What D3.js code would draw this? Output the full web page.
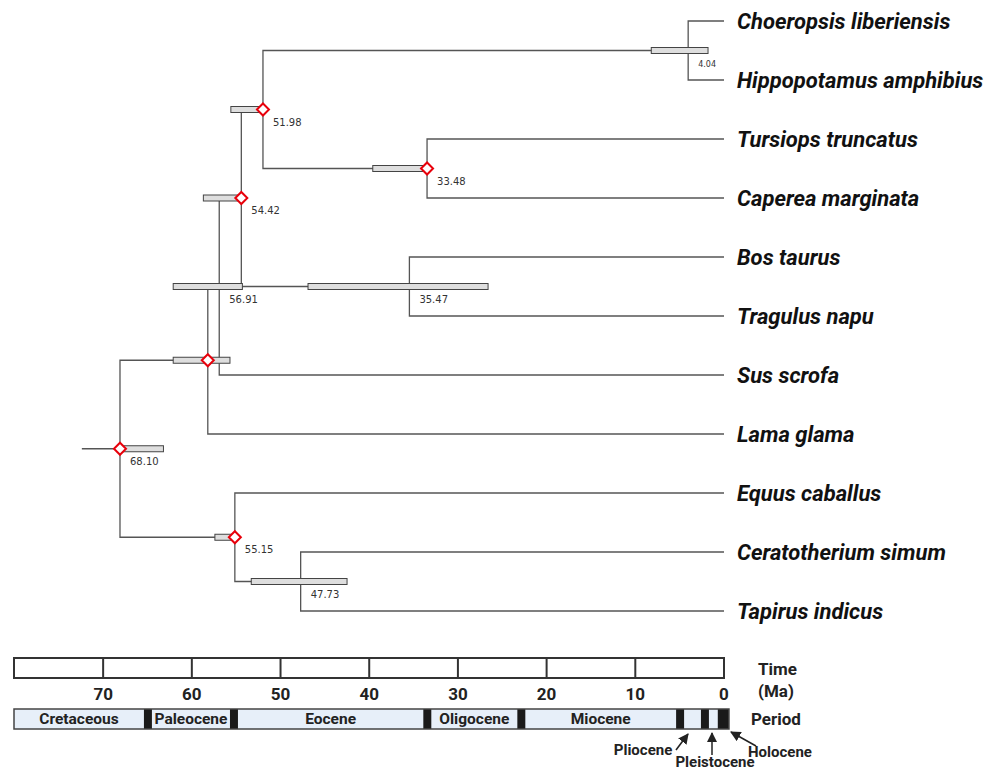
<!DOCTYPE html>
<html>
<head>
<meta charset="utf-8">
<script src="https://cdn.jsdelivr.net/npm/d3@7"></script>
<style>
  body { margin: 0; background: #fff; }
  svg { display: block; }
</style>
</head>
<body>
<div id="chart"></div>
<script>
// leaves top to bottom
const species = [
  "Choeropsis liberiensis", "Hippopotamus amphibius", "Tursiops truncatus",
  "Caperea marginata", "Bos taurus", "Tragulus napu", "Sus scrofa",
  "Lama glama", "Equus caballus", "Ceratotherium simum", "Tapirus indicus"
];

// internal nodes: id, parent, age (Ma), 95% HPD range, printed label, diamond marker
const nodeIds     = ["root", "n58", "n5691", "n5442", "n5198", "n404", "n3348", "n3547", "n5515", "n4773"];
const nodeParents = [null, "root", "n58", "n5691", "n5442", "n5198", "n5198", "n5442", "root", "n5515"];
const nodeAges    = [68.10, 58.2, 56.91, 54.42, 51.98, 4.04, 33.48, 35.47, 55.15, 47.73];
const nodeHpd     = [[63.2, 68.4], [55.7, 62.1], [54.3, 62.1], [54.5, 58.7], [52.0, 55.6],
                     [1.8, 8.2], [33.4, 39.6], [26.6, 46.9], [55.0, 57.4], [42.5, 53.3]];
const nodeLabels  = ["68.10", "", "56.91", "54.42", "51.98", "4.04", "33.48", "35.47", "55.15", "47.73"];
const nodeDiamond = [true, true, false, true, true, false, true, false, true, false];
const leafParents = ["n404", "n404", "n3348", "n3348", "n3547", "n3547", "n5691", "n58", "n5515", "n4773", "n4773"];
const rootStemAge = 72.4;

// time scale
const tickValues = [70, 60, 50, 40, 30, 20, 10];
const tickLabels = [70, 60, 50, 40, 30, 20, 10, 0];
const scaleStart = 80.05;

// geological periods (light segments) and black boundary bands
const periodNames = ["Cretaceous", "Paleocene", "Eocene", "Oligocene", "Miocene"];
const periodFrom  = [80.05, 64.5, 54.8, 33.0, 22.4];
const periodTo    = [65.4, 55.7, 33.9, 23.3, 5.4];
const bandFrom    = [65.4, 55.7, 33.9, 23.3, 5.4, 2.6, 0.7];
const bandTo      = [64.5, 54.8, 33.0, 22.4, 4.5, 1.7, -0.56];
const barEndAge   = -0.56;

const width = 995, height = 772;

const svg = d3.select("#chart").append("svg")
  .attr("width", width)
  .attr("height", height);

const x = d3.scaleLinear().domain([scaleStart, 0]).range([14, 724]);
const yLeaf = d3.scalePoint().domain(species).range([21, 611]);

// build hierarchy
const table = nodeIds.map((id, i) => ({
  id, parent: nodeParents[i], age: nodeAges[i], hpd: nodeHpd[i],
  label: nodeLabels[i], diamond: nodeDiamond[i]
})).concat(species.map((s, i) => ({
  id: s, parent: leafParents[i], age: 0, leaf: true
})));

const root = d3.stratify().id(d => d.id).parentId(d => d.parent)(table);
// keep the leaf order as listed
const order = new Map(species.map((s, i) => [s, i]));
root.eachAfter(n => {
  if (!n.children) n.k = order.get(n.id);
  else {
    n.children.sort((a, b) => a.k - b.k);
    n.k = d3.min(n.children, c => c.k);
  }
});
root.eachAfter(n => {
  n.px = x(n.data.age);
  n.py = n.children ? d3.mean(n.children, c => c.py) : yLeaf(n.id);
});

const g = svg.append("g");
const lineColor = "#555";

// branches
const links = root.links();
g.append("g").selectAll("path")
  .data(links)
  .join("path")
    .attr("d", l => `M${l.source.px},${l.source.py}V${l.target.py}H${l.target.px}`)
    .attr("fill", "none")
    .attr("stroke", lineColor)
    .attr("stroke-width", 1.3);

g.append("line")
  .attr("x1", x(rootStemAge)).attr("x2", root.px)
  .attr("y1", root.py).attr("y2", root.py)
  .attr("stroke", lineColor).attr("stroke-width", 1.3);

const internal = root.descendants().filter(n => n.children);

// HPD bars
g.append("g").selectAll("rect")
  .data(internal)
  .join("rect")
    .attr("x", n => x(n.data.hpd[1]))
    .attr("width", n => x(n.data.hpd[0]) - x(n.data.hpd[1]))
    .attr("y", n => n.py - 3)
    .attr("height", 6)
    .attr("fill", "#dedede")
    .attr("stroke", "#444")
    .attr("stroke-width", 1);

// diamonds
g.append("g").selectAll("path")
  .data(internal.filter(n => n.data.diamond))
  .join("path")
    .attr("d", n => `M${n.px - 6},${n.py}L${n.px},${n.py - 6}L${n.px + 6},${n.py}L${n.px},${n.py + 6}Z`)
    .attr("fill", "#fff")
    .attr("stroke", "#e8000b")
    .attr("stroke-width", 2);

// node ages
g.append("g").selectAll("text")
  .data(internal.filter(n => n.data.label))
  .join("text")
    .attr("x", n => n.px + 10)
    .attr("y", n => n.py + 16)
    .attr("font-family", "DejaVu Sans, Verdana, sans-serif")
    .attr("font-size", n => n.data.age < 10 ? 8 : 10)
    .attr("fill", "#333")
    .text(n => n.data.label);

// species names
g.append("g").selectAll("text")
  .data(root.leaves())
  .join("text")
    .attr("x", 737)
    .attr("y", n => n.py)
    .attr("dy", "0.35em")
    .attr("font-family", "Roboto, Arial, sans-serif")
    .attr("font-weight", "bold")
    .attr("font-style", "italic")
    .attr("font-size", 22)
    .attr("fill", "#111")
    .text(n => n.id);

// time scale box
const ts = svg.append("g");
const boxTop = 658, boxH = 20;
ts.append("rect")
  .attr("x", x(scaleStart)).attr("y", boxTop)
  .attr("width", x(0) - x(scaleStart)).attr("height", boxH)
  .attr("fill", "#fff").attr("stroke", "#333").attr("stroke-width", 2);
ts.selectAll("line.tick")
  .data(tickValues)
  .join("line")
    .attr("class", "tick")
    .attr("x1", d => x(d)).attr("x2", d => x(d))
    .attr("y1", boxTop).attr("y2", boxTop + boxH)
    .attr("stroke", "#333").attr("stroke-width", 2);
ts.selectAll("text.tl")
  .data(tickLabels)
  .join("text")
    .attr("class", "tl")
    .attr("x", d => x(d)).attr("y", 700)
    .attr("text-anchor", "middle")
    .attr("font-family", "Roboto, Arial, sans-serif")
    .attr("font-weight", "bold")
    .attr("font-size", 17)
    .attr("fill", "#222")
    .text(d => d);

const sideText = [["Time", 758, 675], ["(Ma)", 758, 697], ["Period", 751, 725]];
ts.selectAll("text.side")
  .data(sideText)
  .join("text")
    .attr("class", "side")
    .attr("x", d => d[1]).attr("y", d => d[2])
    .attr("font-family", "Roboto, Arial, sans-serif")
    .attr("font-weight", "bold")
    .attr("font-size", 17)
    .attr("fill", "#222")
    .text(d => d[0]);

// period bar
const pTop = 709, pH = 20;
ts.append("rect")
  .attr("x", x(scaleStart)).attr("y", pTop)
  .attr("width", x(barEndAge) - x(scaleStart)).attr("height", pH)
  .attr("fill", "#e7eff9");
ts.selectAll("rect.band")
  .data(bandFrom.map((f, i) => [f, bandTo[i]]))
  .join("rect")
    .attr("class", "band")
    .attr("x", d => x(d[0])).attr("y", pTop)
    .attr("width", d => x(d[1]) - x(d[0])).attr("height", pH)
    .attr("fill", "#1a1a1a");
ts.append("rect")
  .attr("x", x(scaleStart)).attr("y", pTop)
  .attr("width", x(barEndAge) - x(scaleStart)).attr("height", pH)
  .attr("fill", "none").attr("stroke", "#444").attr("stroke-width", 1.5);
ts.selectAll("text.period")
  .data(periodNames.map((n, i) => [n, periodFrom[i], periodTo[i]]))
  .join("text")
    .attr("class", "period")
    .attr("x", d => (x(d[1]) + x(d[2])) / 2).attr("y", pTop + 15)
    .attr("text-anchor", "middle")
    .attr("font-family", "Roboto, Arial, sans-serif")
    .attr("font-weight", "bold")
    .attr("font-size", 15.5)
    .attr("fill", "#222")
    .text(d => d[0]);

// callouts for the short epochs
svg.append("defs").append("marker")
  .attr("id", "arr")
  .attr("viewBox", "0 0 10 10")
  .attr("refX", 9).attr("refY", 5)
  .attr("markerWidth", 7).attr("markerHeight", 7)
  .attr("orient", "auto-start-reverse")
  .append("path").attr("d", "M0,0L10,5L0,10Z").attr("fill", "#222");

const callouts = [
  { text: "Pliocene", tx: 643, ty: 755, from: [676, 750], to: [688, 734] },
  { text: "Pleistocene", tx: 715, ty: 767, from: [712, 755], to: [712, 733] },
  { text: "Holocene", tx: 780, ty: 757, from: [756, 746], to: [731, 732] }
];
ts.selectAll("line.call")
  .data(callouts)
  .join("line")
    .attr("class", "call")
    .attr("x1", d => d.from[0]).attr("y1", d => d.from[1])
    .attr("x2", d => d.to[0]).attr("y2", d => d.to[1])
    .attr("stroke", "#222").attr("stroke-width", 1.5)
    .attr("marker-end", "url(#arr)");
ts.selectAll("text.call")
  .data(callouts)
  .join("text")
    .attr("class", "call")
    .attr("x", d => d.tx).attr("y", d => d.ty)
    .attr("text-anchor", "middle")
    .attr("font-family", "Roboto, Arial, sans-serif")
    .attr("font-weight", "bold")
    .attr("font-size", 15)
    .attr("fill", "#222")
    .text(d => d.text);
</script>
</body>
</html>
